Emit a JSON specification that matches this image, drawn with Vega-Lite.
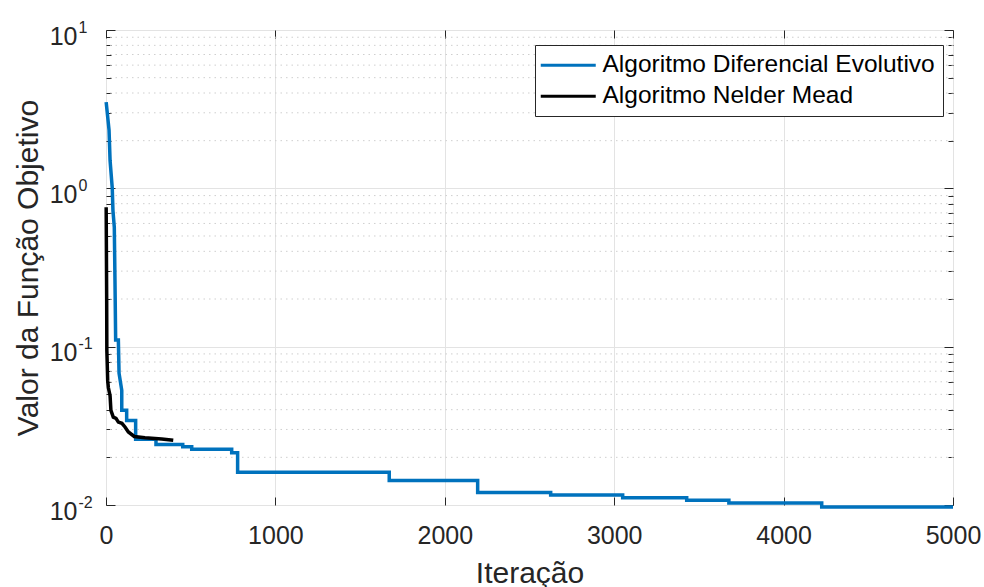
{
  "$schema": "https://vega.github.io/schema/vega-lite/v6.json",
  "autosize": {"type": "none"},
  "padding": {"left": 106, "top": 30, "right": 31, "bottom": 82},
  "width": 847,
  "height": 475,
  "background": "white",
  "config": {
    "font": "Liberation Sans",
    "view": {"stroke": "#262626", "strokeWidth": 1},
    "axis": {"labelColor": "#262626", "titleColor": "#262626", "tickColor": "#262626", "domain": false, "labelFont": "Liberation Sans", "titleFont": "Liberation Sans", "titleFontWeight": "normal", "labelFlush": false}
  },
  "datasets": {
    "minor": [
      {"v": 0.02}, {"v": 0.03}, {"v": 0.04}, {"v": 0.05}, {"v": 0.06}, {"v": 0.07}, {"v": 0.08}, {"v": 0.09},
      {"v": 0.2}, {"v": 0.3}, {"v": 0.4}, {"v": 0.5}, {"v": 0.6}, {"v": 0.7}, {"v": 0.8}, {"v": 0.9},
      {"v": 2}, {"v": 3}, {"v": 4}, {"v": 5}, {"v": 6}, {"v": 7}, {"v": 8}, {"v": 9}
    ],
    "series": [
      {"alg": "Algoritmo Diferencial Evolutivo", "iter": 1, "val": 3.5},
      {"alg": "Algoritmo Diferencial Evolutivo", "iter": 18, "val": 2.33},
      {"alg": "Algoritmo Diferencial Evolutivo", "iter": 24, "val": 1.5},
      {"alg": "Algoritmo Diferencial Evolutivo", "iter": 37, "val": 1.0},
      {"alg": "Algoritmo Diferencial Evolutivo", "iter": 41, "val": 0.726},
      {"alg": "Algoritmo Diferencial Evolutivo", "iter": 49, "val": 0.567},
      {"alg": "Algoritmo Diferencial Evolutivo", "iter": 53, "val": 0.262},
      {"alg": "Algoritmo Diferencial Evolutivo", "iter": 57, "val": 0.11},
      {"alg": "Algoritmo Diferencial Evolutivo", "iter": 73, "val": 0.11},
      {"alg": "Algoritmo Diferencial Evolutivo", "iter": 77, "val": 0.068},
      {"alg": "Algoritmo Diferencial Evolutivo", "iter": 93, "val": 0.053},
      {"alg": "Algoritmo Diferencial Evolutivo", "iter": 93, "val": 0.0396},
      {"alg": "Algoritmo Diferencial Evolutivo", "iter": 122, "val": 0.0396},
      {"alg": "Algoritmo Diferencial Evolutivo", "iter": 122, "val": 0.0342},
      {"alg": "Algoritmo Diferencial Evolutivo", "iter": 175, "val": 0.0342},
      {"alg": "Algoritmo Diferencial Evolutivo", "iter": 175, "val": 0.026},
      {"alg": "Algoritmo Diferencial Evolutivo", "iter": 295, "val": 0.026},
      {"alg": "Algoritmo Diferencial Evolutivo", "iter": 295, "val": 0.0241},
      {"alg": "Algoritmo Diferencial Evolutivo", "iter": 453, "val": 0.0241},
      {"alg": "Algoritmo Diferencial Evolutivo", "iter": 453, "val": 0.0233},
      {"alg": "Algoritmo Diferencial Evolutivo", "iter": 506, "val": 0.0233},
      {"alg": "Algoritmo Diferencial Evolutivo", "iter": 506, "val": 0.0225},
      {"alg": "Algoritmo Diferencial Evolutivo", "iter": 742, "val": 0.0225},
      {"alg": "Algoritmo Diferencial Evolutivo", "iter": 742, "val": 0.0214},
      {"alg": "Algoritmo Diferencial Evolutivo", "iter": 777, "val": 0.0214},
      {"alg": "Algoritmo Diferencial Evolutivo", "iter": 777, "val": 0.0161},
      {"alg": "Algoritmo Diferencial Evolutivo", "iter": 1672, "val": 0.0161},
      {"alg": "Algoritmo Diferencial Evolutivo", "iter": 1672, "val": 0.0143},
      {"alg": "Algoritmo Diferencial Evolutivo", "iter": 2194, "val": 0.0143},
      {"alg": "Algoritmo Diferencial Evolutivo", "iter": 2194, "val": 0.012},
      {"alg": "Algoritmo Diferencial Evolutivo", "iter": 2625, "val": 0.012},
      {"alg": "Algoritmo Diferencial Evolutivo", "iter": 2625, "val": 0.01155},
      {"alg": "Algoritmo Diferencial Evolutivo", "iter": 3050, "val": 0.01155},
      {"alg": "Algoritmo Diferencial Evolutivo", "iter": 3050, "val": 0.0111},
      {"alg": "Algoritmo Diferencial Evolutivo", "iter": 3428, "val": 0.0111},
      {"alg": "Algoritmo Diferencial Evolutivo", "iter": 3428, "val": 0.0107},
      {"alg": "Algoritmo Diferencial Evolutivo", "iter": 3677, "val": 0.0107},
      {"alg": "Algoritmo Diferencial Evolutivo", "iter": 3677, "val": 0.0103},
      {"alg": "Algoritmo Diferencial Evolutivo", "iter": 4225, "val": 0.0103},
      {"alg": "Algoritmo Diferencial Evolutivo", "iter": 4225, "val": 0.0097},
      {"alg": "Algoritmo Diferencial Evolutivo", "iter": 5000, "val": 0.0097},
      {"alg": "Algoritmo Nelder Mead", "iter": 1, "val": 0.76},
      {"alg": "Algoritmo Nelder Mead", "iter": 4, "val": 0.196},
      {"alg": "Algoritmo Nelder Mead", "iter": 5, "val": 0.095},
      {"alg": "Algoritmo Nelder Mead", "iter": 10, "val": 0.061},
      {"alg": "Algoritmo Nelder Mead", "iter": 14, "val": 0.055},
      {"alg": "Algoritmo Nelder Mead", "iter": 24, "val": 0.049},
      {"alg": "Algoritmo Nelder Mead", "iter": 29, "val": 0.0396},
      {"alg": "Algoritmo Nelder Mead", "iter": 43, "val": 0.0359},
      {"alg": "Algoritmo Nelder Mead", "iter": 59, "val": 0.0353},
      {"alg": "Algoritmo Nelder Mead", "iter": 73, "val": 0.0334},
      {"alg": "Algoritmo Nelder Mead", "iter": 94, "val": 0.0328},
      {"alg": "Algoritmo Nelder Mead", "iter": 112, "val": 0.0311},
      {"alg": "Algoritmo Nelder Mead", "iter": 132, "val": 0.0289},
      {"alg": "Algoritmo Nelder Mead", "iter": 167, "val": 0.0271},
      {"alg": "Algoritmo Nelder Mead", "iter": 230, "val": 0.0266},
      {"alg": "Algoritmo Nelder Mead", "iter": 329, "val": 0.0261},
      {"alg": "Algoritmo Nelder Mead", "iter": 397, "val": 0.0256}
    ]
  },
  "resolve": {"axis": {"x": "independent", "y": "independent"}},
  "layer": [
    {
      "data": {"name": "minor"},
      "mark": {"type": "rule", "stroke": "#cfcfcf", "strokeWidth": 1, "strokeDash": [1.5, 4]},
      "encoding": {
        "y": {"field": "v", "type": "quantitative", "scale": {"type": "log", "domain": [0.01, 10]},
          "axis": {"orient": "left", "values": [0.02,0.03,0.04,0.05,0.06,0.07,0.08,0.09,0.2,0.3,0.4,0.5,0.6,0.7,0.8,0.9,2,3,4,5,6,7,8,9], "labels": false, "ticks": true, "tickSize": -5, "grid": false, "title": null}}
      }
    },
    {
      "data": {"name": "minor"},
      "mark": {"type": "rule", "strokeOpacity": 0},
      "encoding": {
        "y": {"field": "v", "type": "quantitative", "scale": {"type": "log", "domain": [0.01, 10]},
          "axis": {"orient": "right", "values": [0.02,0.03,0.04,0.05,0.06,0.07,0.08,0.09,0.2,0.3,0.4,0.5,0.6,0.7,0.8,0.9,2,3,4,5,6,7,8,9], "labels": false, "ticks": true, "tickSize": -5, "grid": false, "title": null}}
      }
    },
    {
      "data": {"name": "series"},
      "mark": {"type": "point", "opacity": 0},
      "encoding": {
        "x": {"field": "iter", "type": "quantitative", "scale": {"domain": [0, 5000], "nice": false},
          "axis": {"orient": "bottom", "values": [0,1000,2000,3000,4000,5000], "labels": false, "ticks": true, "tickSize": -8, "grid": false, "title": null}},
        "y": {"field": "val", "type": "quantitative", "scale": {"type": "log", "domain": [0.01, 10]},
          "axis": {"orient": "left", "values": [0.01, 0.1, 1, 10], "labels": false, "ticks": true, "tickSize": -9, "grid": false, "title": null}}
      }
    },
    {
      "data": {"name": "series"},
      "mark": {"type": "point", "opacity": 0},
      "encoding": {
        "x": {"field": "iter", "type": "quantitative", "scale": {"domain": [0, 5000], "nice": false},
          "axis": {"orient": "top", "values": [0,1000,2000,3000,4000,5000], "labels": false, "ticks": true, "tickSize": -8, "grid": false, "title": null}},
        "y": {"field": "val", "type": "quantitative", "scale": {"type": "log", "domain": [0.01, 10]},
          "axis": {"orient": "right", "values": [0.01, 0.1, 1, 10], "labels": false, "ticks": true, "tickSize": -9, "grid": false, "title": null}}
      }
    },
    {
      "data": {"name": "series"},
      "mark": {"type": "point", "opacity": 0},
      "encoding": {
        "y": {"field": "val", "type": "quantitative", "scale": {"type": "log", "domain": [0.01, 10]},
          "axis": {"orient": "left", "values": [0.01, 0.1, 1, 10], "ticks": false, "grid": false, "title": null, "labelAlign": "left", "labelPadding": 28, "labelOffset": -3, "labelFontSize": 16, "labelExpr": "datum.value < 0.05 ? '-2' : datum.value < 0.5 ? '-1' : datum.value < 5 ? '0' : '1'"}}
      }
    },
    {
      "data": {"name": "series"},
      "mark": {"type": "line", "strokeWidth": 3.5, "clip": false},
      "encoding": {
        "x": {"field": "iter", "type": "quantitative", "scale": {"domain": [0, 5000], "nice": false},
          "axis": {"orient": "bottom", "values": [0,1000,2000,3000,4000,5000], "format": "d", "ticks": false, "labelFontSize": 25, "labelPadding": 18, "grid": true, "gridColor": "#e3e3e3", "title": "Iteração", "titleFontSize": 30, "titlePadding": 10}},
        "y": {"field": "val", "type": "quantitative", "scale": {"type": "log", "domain": [0.01, 10]},
          "axis": {"orient": "left", "values": [0.01, 0.1, 1, 10], "ticks": false, "labelFontSize": 25, "labelPadding": 29, "labelOffset": 6, "labelExpr": "'10'", "grid": true, "gridColor": "#e3e3e3", "title": "Valor da Função Objetivo", "titleFontSize": 30, "titlePadding": 6}},
        "color": {"field": "alg", "type": "nominal",
          "scale": {"domain": ["Algoritmo Diferencial Evolutivo", "Algoritmo Nelder Mead"], "range": ["#0072BD", "#000000"]},
          "legend": {"title": null, "orient": "none", "legendX": 429, "legendY": 15, "direction": "vertical",
            "fillColor": "white", "strokeColor": "#262626", "padding": 8, "cornerRadius": 0,
            "symbolType": "M-5,0H5", "symbolSize": 121, "symbolStrokeWidth": 3, "symbolOffset": 13,
            "labelOffset": 22, "labelFontSize": 24.5, "labelColor": "#000000", "labelFont": "Liberation Sans", "rowPadding": 6, "labelLimit": 500}},
        "order": {"value": null}
      }
    }
  ]
}
